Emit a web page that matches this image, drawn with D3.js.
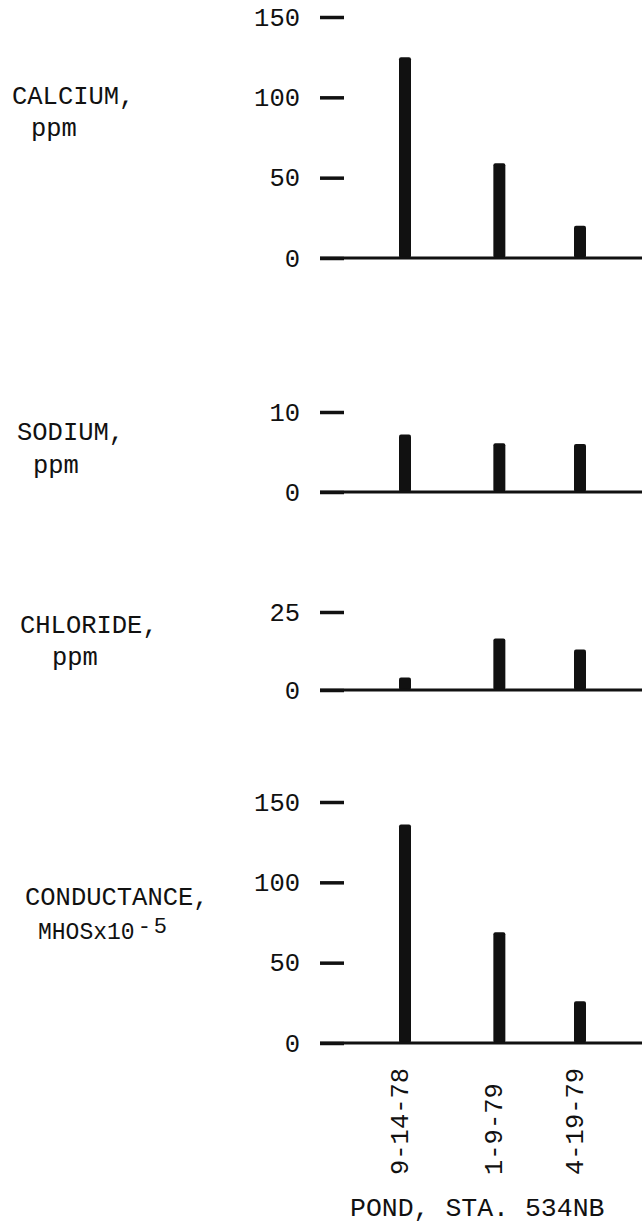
<!DOCTYPE html>
<html>
<head>
    <meta charset="UTF-8" />
    <title>POND, STA. 534NB</title>
    <style>
        body { margin: 0; background: #fff; }
        text { font-family: "Liberation Mono", "DejaVu Sans Mono", monospace; fill: #111; }
    </style>
</head>
<body>
    <div id="chart"></div>
    <script src="https://d3js.org/d3.v7.min.js"></script>
    <script>
        // donnees
        const dates = ["9-14-78", "1-9-79", "4-19-79"];
        const calcium = [125, 59, 20];
        const sodium = [7.2, 6.1, 6.0];
        const chloride = [4, 16.5, 13];
        const conductance = [136, 69, 26];

        const calciumTicks = [0, 50, 100, 150];
        const sodiumTicks = [0, 10];
        const chlorideTicks = [0, 25];
        const conductanceTicks = [0, 50, 100, 150];

        let width = 642,
            height = 1226;

        let svg = d3.select("#chart")
            .append("svg")
            .attr("width", width)
            .attr("height", height);

        let parse = d3.timeParse("%m-%d-%y");
        let times = dates.map(parse);

        // echelle en temps : l'espacement des barres suit les dates
        let x = d3.scaleTime()
            .domain([times[0], times[times.length - 1]])
            .range([405, 580]);

        // un panneau par variable
        let panels = [
            { label: "CALCIUM,", unit: "ppm", values: calcium, ticks: calciumTicks, top: 17, bottom: 258,
              lx: 12, ly: 104, ux: 31, uy: 136 },
            { label: "SODIUM,", unit: "ppm", values: sodium, ticks: sodiumTicks, top: 412, bottom: 492,
              lx: 17, ly: 440, ux: 33, uy: 473 },
            { label: "CHLORIDE,", unit: "ppm", values: chloride, ticks: chlorideTicks, top: 612, bottom: 690,
              lx: 20, ly: 633, ux: 52, uy: 665 },
            { label: "CONDUCTANCE,", unit: "MHOSx10", values: conductance, ticks: conductanceTicks, top: 802, bottom: 1043,
              lx: 25, ly: 905, ux: 38, uy: 939, sup: "-5" }
        ];

        panels.forEach(p => {
            let y = d3.scaleLinear()
                .domain([0, d3.max(p.ticks)])
                .range([p.bottom, p.top]);

            let g = svg.append("g");

            // axe vertical : petits traits + valeurs
            let axis = g.append("g")
                .attr("transform", "translate(344,0)")
                .call(d3.axisLeft(y).tickValues(p.ticks).tickSize(24).tickPadding(20));
            axis.select(".domain").remove();
            axis.selectAll(".tick line").attr("stroke", "#111").attr("stroke-width", 3.5);
            axis.selectAll(".tick text")
                .attr("font-family", "Liberation Mono")
                .attr("font-size", 25.5)
                .attr("fill", "#111");

            // barres
            g.selectAll("rect")
                .data(p.values)
                .join("rect")
                .attr("x", (d, i) => x(times[i]) - 6)
                .attr("width", 12)
                .attr("y", d => y(d))
                .attr("height", d => y(0) - y(d))
                .attr("rx", 2)
                .attr("fill", "#111");

            // ligne de base
            g.append("line")
                .attr("x1", 320)
                .attr("x2", width)
                .attr("y1", y(0))
                .attr("y2", y(0))
                .attr("stroke", "#111")
                .attr("stroke-width", 3);

            // titre a gauche
            g.append("text")
                .attr("x", p.lx)
                .attr("y", p.ly)
                .attr("font-size", 25.5)
                .text(p.label);

            let unit = g.append("text")
                .attr("x", p.ux)
                .attr("y", p.uy)
                .attr("font-size", p.sup ? 23 : 25.5)
                .text(p.unit);
            if (p.sup) {
                unit.append("tspan")
                    .attr("dx", 3)
                    .attr("dy", -6)
                    .attr("font-size", 22)
                    .attr("letter-spacing", 3)
                    .text(p.sup);
            }
        });

        // dates verticales sous le dernier panneau
        svg.selectAll(".date")
            .data(times)
            .join("text")
            .attr("class", "date")
            .attr("transform", (d, i) => "translate(" + (x(d) - 6) + ",1175) rotate(-90)")
            .attr("dy", "0.35em")
            .attr("font-size", 25.5)
            .text((d, i) => dates[i]);

        svg.append("text")
            .attr("x", 350)
            .attr("y", 1216)
            .attr("font-size", 26.5)
            .text("POND, STA. 534NB");
    </script>
</body>
</html>
